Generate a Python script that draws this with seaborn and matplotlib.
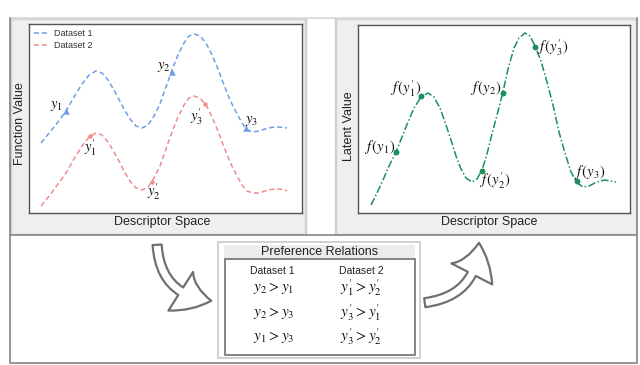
import matplotlib
matplotlib.use("Agg")
import matplotlib.pyplot as plt
import seaborn as sns
import pandas as pd
from matplotlib.patches import Rectangle, FancyArrowPatch

sns.set_theme(style="white")
plt.rcParams['font.family'] = ['Liberation Sans', 'DejaVu Sans']
plt.rcParams['mathtext.fontset'] = 'stix'

# ---------------- data ----------------
desc1 = [12, 21, 29, 37, 45, 53, 60, 67, 73, 79, 85, 90, 95, 101, 107, 113, 119, 125, 131, 137,
         143, 149, 155, 160, 165, 171, 177, 183, 189, 195, 201, 207, 213, 218, 224, 230, 236,
         242, 249, 255, 258]
dataset1 = [70, 81, 91, 102, 116, 129, 138, 142, 140, 133, 123, 113.5, 104, 94, 87, 85, 88, 97,
            109, 126, 143, 158, 170, 177, 179, 177, 170, 158, 144, 128, 113, 101, 90, 83, 81, 82,
            84, 85.5, 86, 85.5, 85]
dataset2 = [7, 18, 29, 40, 54, 67, 76, 80, 78, 71, 61, 52, 42, 32, 25, 23, 26, 35, 47, 64, 81,
            96, 108, 115, 117, 115, 108, 96, 82, 66, 51, 39, 28, 22, 20, 20, 22, 23.5, 24, 23.5, 22]

pts1_x = [37, 143, 217]
pts1_y = [102, 141, 85]
pts1_lab = [r"$y_1$", r"$y_2$", r"$y_3$"]
pts2_x = [61, 123, 176]
pts2_y = [77, 31, 109]
pts2_lab = [r"$y_1'$", r"$y_2'$", r"$y_3'$"]

desc_lat = [13, 19, 25, 31, 38, 44, 50, 56, 63, 70, 76, 82, 88, 93, 98, 103, 108, 114, 119, 124,
            129, 134, 139, 145, 150, 156, 161, 167, 172, 177, 183, 189, 195, 201, 207, 213, 219,
            225, 231, 237, 242, 247, 252, 258]
latent = [8, 20, 33, 47, 61, 76, 91, 105, 116, 120, 116, 105, 88, 73, 57, 44, 35, 31, 34, 43, 59,
          79, 98, 121, 144, 165, 175, 180, 177, 167, 152, 131, 108, 81, 60, 41, 30, 26, 27, 30,
          32, 33, 32, 31]
lat_pts_x = [38, 63, 124, 145, 177, 219]
lat_pts_y = [61, 117, 42, 120, 166, 32]
lat_lab = [r"$f\,(y_1)$", r"$f\,(y_1')$", r"$f\,(y_2')$", r"$f\,(y_2)$", r"$f\,(y_3')$", r"$f\,(y_3)$"]

rel_d1 = [r"$y_2 > y_1$", r"$y_2 > y_3$", r"$y_1 > y_3$"]
rel_d2 = [r"$y_1' > y_2'$", r"$y_3' > y_1'$", r"$y_3' > y_2'$"]

BLUE = "#6b9ee6"
RED = "#f08c8c"
GREEN = "#1c8f5c"
EDGE = "#555555"

W, H = 640, 365
fig = plt.figure(figsize=(6.4, 3.65), dpi=100)

# overlay axes in pixel coords
bg = fig.add_axes([0, 0, 1, 1], zorder=0)
bg.set_xlim(0, W)
bg.set_ylim(H, 0)
bg.axis("off")

# panel backgrounds
bg.add_patch(Rectangle((11, 19), 294, 215, fc="#efefef", ec="#d0d0d0", lw=1))
bg.add_patch(Rectangle((336, 19), 300, 215, fc="#efefef", ec="#d0d0d0", lw=1))
bg.add_patch(Rectangle((306, 19), 29, 215, fc="white", ec="none"))
bg.plot([306, 306], [18, 235], color="#d0d0d0", lw=1)
bg.plot([335, 335], [18, 235], color="#d0d0d0", lw=1)
# outer frame
bg.plot([10, 637], [18, 18], color="#d6d6d6", lw=1.2)
bg.plot([10, 10, 637, 637], [18, 363, 363, 18], color="#8c8c8c", lw=1.3)
bg.plot([10, 637], [235, 235], color="#8c8c8c", lw=1.3)

# axis titles
bg.text(162, 222, "Descriptor Space", ha="center", va="center", fontsize=9, color="#222222")
bg.text(489, 222, "Descriptor Space", ha="center", va="center", fontsize=9, color="#222222")
bg.text(20, 124, "Function Value", ha="center", va="center", rotation=90, fontsize=9, color="#222222")
bg.text(349, 126, "Latent Value", ha="center", va="center", rotation=90, fontsize=9, color="#222222")

# preference relations box
bg.add_patch(Rectangle((218, 242), 202, 116, fc="white", ec="#c8c8c8", lw=1.2))
bg.add_patch(Rectangle((224, 245), 191, 14, fc="#ececec", ec="none"))
bg.add_patch(Rectangle((225, 259), 190, 96, fc="white", ec="#707070", lw=1.2))
bg.text(320, 252, "Preference Relations", ha="center", va="center", fontsize=9, color="#222222")
bg.text(272, 271, "Dataset 1", ha="center", va="center", fontsize=7.5, color="#222222")
bg.text(361, 271, "Dataset 2", ha="center", va="center", fontsize=7.5, color="#222222")
for i, (a, b) in enumerate(zip(rel_d1, rel_d2)):
    yy = [288, 313, 337][i]
    bg.text(274, yy, a, ha="center", va="center", fontsize=11, color="#111111")
    bg.text(361, yy, b, ha="center", va="center", fontsize=11, color="#111111")

# arrows
arr_style = "simple,head_width=3.3,head_length=2.3,tail_width=0.65"
bg.add_patch(FancyArrowPatch((157, 242), (214, 301), connectionstyle="arc3,rad=0.45",
                             arrowstyle=arr_style, mutation_scale=10, fc="white",
                             ec="#707070", lw=1.6, zorder=3))
bg.add_patch(FancyArrowPatch((422, 303), (479, 240), connectionstyle="arc3,rad=0.45",
                             arrowstyle=arr_style, mutation_scale=10, fc="white",
                             ec="#707070", lw=1.6, zorder=3))


def px_axes(x0, y0, x1, y1):
    return fig.add_axes([x0 / W, (H - y1) / H, (x1 - x0) / W, (y1 - y0) / H], zorder=2)


# ---------------- left panel ----------------
ax1 = px_axes(29, 24, 302, 213)
df1 = pd.DataFrame({"x": desc1, "Dataset 1": dataset1, "Dataset 2": dataset2})
sns.lineplot(data=df1, x="x", y="Dataset 1", ax=ax1, color=BLUE, lw=1.1,
             linestyle=(0, (3.2, 2)), label="Dataset 1")
sns.lineplot(data=df1, x="x", y="Dataset 2", ax=ax1, color=RED, lw=1.1,
             linestyle=(0, (3.2, 2)), label="Dataset 2")
sns.scatterplot(x=pts1_x, y=pts1_y, ax=ax1, color=BLUE, marker="^", s=22, linewidth=0, legend=False)
sns.scatterplot(x=pts2_x, y=pts2_y, ax=ax1, color=RED, marker="o", s=10, linewidth=0, legend=False)
lab1_pos = [(27, 107), (135, 146), (223, 92)]
for (lx, ly), t in zip(lab1_pos, pts1_lab):
    ax1.text(lx, ly, t, ha="center", va="center", fontsize=10.5, color="#111111")
lab2_pos = [(61, 65), (125, 21), (168, 96)]
for (lx, ly), t in zip(lab2_pos, pts2_lab):
    ax1.text(lx, ly, t, ha="center", va="center", fontsize=10.5, color="#111111")
ax1.set_xlim(0, 273)
ax1.set_ylim(0, 189)
ax1.set_xticks([])
ax1.set_yticks([])
ax1.set_xlabel("")
ax1.set_ylabel("")
for s in ax1.spines.values():
    s.set_color(EDGE)
    s.set_linewidth(1.0)
leg = ax1.legend(loc="upper left", frameon=False, fontsize=6.5, handlelength=1.6,
                 handletextpad=0.6, borderaxespad=0.2, labelspacing=0.3)
for t in leg.get_texts():
    t.set_color("#333333")

# ---------------- right panel ----------------
ax2 = px_axes(358, 25, 630, 213)
df2 = pd.DataFrame({"x": desc_lat, "latent": latent})
sns.lineplot(data=df2, x="x", y="latent", ax=ax2, color=GREEN, lw=1.1,
             linestyle=(0, (5, 1.5, 1, 1.5)))
sns.scatterplot(x=lat_pts_x, y=lat_pts_y, ax=ax2, color=GREEN, marker="o", s=18, linewidth=0,
                legend=False)
lat_pos = [(22, 66), (48, 124), (137, 32), (128, 125), (195, 165), (232, 41)]
for (lx, ly), t in zip(lat_pos, lat_lab):
    ax2.text(lx, ly, t, ha="center", va="center", fontsize=10.5, color="#111111")
ax2.set_xlim(0, 272)
ax2.set_ylim(0, 188)
ax2.set_xticks([])
ax2.set_yticks([])
ax2.set_xlabel("")
ax2.set_ylabel("")
for s in ax2.spines.values():
    s.set_color(EDGE)
    s.set_linewidth(1.0)

fig.savefig("out.png", dpi=100)
